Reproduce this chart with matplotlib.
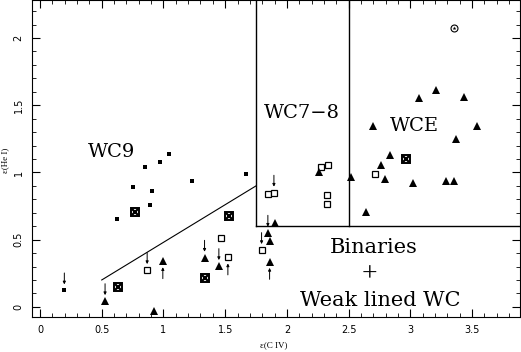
import matplotlib
matplotlib.use("Agg")
import matplotlib.pyplot as plt

# WC9 stars (filled squares)
wc9_x = [0.197, 0.627, 0.752, 0.889, 0.906, 0.854, 0.976, 1.041, 1.235, 1.668]
wc9_y = [0.122, 0.653, 0.889, 0.760, 0.864, 1.042, 1.075, 1.137, 0.934, 0.988]

# WC7-8 stars (open squares)
wc78_x = [0.868, 1.468, 1.522, 1.795, 1.846, 1.895, 2.322, 2.328, 2.279, 2.330, 2.711]
wc78_y = [0.273, 0.511, 0.368, 0.422, 0.841, 0.849, 0.829, 0.762, 1.042, 1.055, 0.988]

# WCE stars (filled triangles)
wce_x = [0.527, 0.922, 0.995, 1.333, 1.449, 1.903, 1.846, 1.860, 1.860, 2.640, 2.517,
         2.795, 3.022, 3.293, 3.352, 2.260, 2.700, 2.839, 2.766, 3.071, 3.209, 3.439,
         3.542, 3.371]
wce_y = [0.042, -0.030, 0.340, 0.365, 0.303, 0.621, 0.551, 0.491, 0.335, 0.707, 0.963,
         0.948, 0.919, 0.934, 0.934, 1.005, 1.345, 1.127, 1.055, 1.554, 1.616, 1.564,
         1.348, 1.246]

# crossed squares
cross_x = [0.635, 0.768, 1.338, 1.535, 2.968]
cross_y = [0.147, 0.703, 0.211, 0.673, 1.097]

# circled star
circ_x = [3.352]
circ_y = [2.077]

# upper limits (arrow pointing down onto the point)
down_x = [0.197, 0.868, 1.795, 1.895, 0.527, 1.333, 1.449, 1.846]
down_y = [0.122, 0.273, 0.422, 0.849, 0.042, 0.365, 0.303, 0.551]
# lower limits (arrow below pointing up)
up_x = [0.995, 1.522, 1.860]
up_y = [0.340, 0.368, 0.335]

fig = plt.figure(figsize=(5.21, 3.52), dpi=100)
ax = fig.add_axes([0.0614, 0.100, 0.937, 0.900])

ax.plot(wc9_x, wc9_y, 's', color='black', ms=3.2, mew=0)
ax.plot(wc78_x, wc78_y, 's', mfc='white', mec='black', ms=5, mew=0.9)
ax.plot(wce_x, wce_y, '^', color='black', ms=5.5, mew=0)
ax.plot(cross_x, cross_y, 's', mfc='none', mec='black', ms=6, mew=1.4)
ax.plot(cross_x, cross_y, 'x', color='black', ms=5, mew=1.6)
ax.plot(circ_x, circ_y, 'o', mfc='none', mec='black', ms=5, mew=0.8)
ax.plot(circ_x, circ_y, '*', color='black', ms=3, mew=0)

for x, y in zip(down_x, down_y):
    ax.annotate('', xy=(x, y + 0.045), xytext=(x, y + 0.13),
                arrowprops=dict(arrowstyle='-|>', color='black', lw=0.7,
                                mutation_scale=4, shrinkA=0, shrinkB=0))
for x, y in zip(up_x, up_y):
    ax.annotate('', xy=(x, y - 0.045), xytext=(x, y - 0.13),
                arrowprops=dict(arrowstyle='-|>', color='black', lw=0.7,
                                mutation_scale=4, shrinkA=0, shrinkB=0))

# region boundaries
ax.plot([0.5, 1.75], [0.2, 0.9], color='black', lw=0.8)
ax.plot([1.75, 1.75], [0.6, 2.3], color='black', lw=1)
ax.plot([2.5, 2.5], [0.6, 2.3], color='black', lw=1)
ax.plot([1.75, 3.9], [0.6, 0.6], color='black', lw=1)

serif = ['DejaVu Serif']
ax.text(0.58, 1.15, 'WC9', fontsize=14, family=serif, ha='center', va='center')
ax.text(2.12, 1.445, 'WC7\u22128', fontsize=14, family=serif, ha='center', va='center')
ax.text(3.03, 1.345, 'WCE', fontsize=14, family=serif, ha='center', va='center')
ax.text(2.70, 0.442, 'Binaries', fontsize=15, family=serif, ha='center', va='center')
ax.text(2.67, 0.24, '+', fontsize=20, family=['Liberation Serif'], ha='center', va='center')
ax.text(2.76, 0.05, 'Weak lined WC', fontsize=15, family=serif, ha='center', va='center')

ax.set_xlim(-0.065, 3.89)
ax.set_ylim(-0.074, 2.283)
ax.set_xticks([0, 0.5, 1, 1.5, 2, 2.5, 3, 3.5])
ax.set_xticklabels(['0', '0.5', '1', '1.5', '2', '2.5', '3', '3.5'])
ax.set_yticks([0, 0.5, 1, 1.5, 2])
ax.set_yticklabels(['0', '0.5', '1', '1.5', '2'], rotation=90, va='center')
ax.minorticks_on()
ax.tick_params(which='both', direction='in', top=True, right=True, labelsize=7)
ax.tick_params(axis='x', which='major', length=6, pad=6)
ax.tick_params(axis='y', which='major', length=6, pad=6)
ax.tick_params(which='minor', length=3)

fig.text(260 / 521, 1 - 345 / 352, '\u03b5(C IV)', fontsize=6.5, family='Liberation Serif',
         ha='left', va='center')
fig.text(5 / 521, 1 - 160 / 352, '\u03b5(He I)', fontsize=6.5, family='Liberation Serif',
         ha='center', va='center', rotation=90)

fig.savefig('out.png', dpi=100)
